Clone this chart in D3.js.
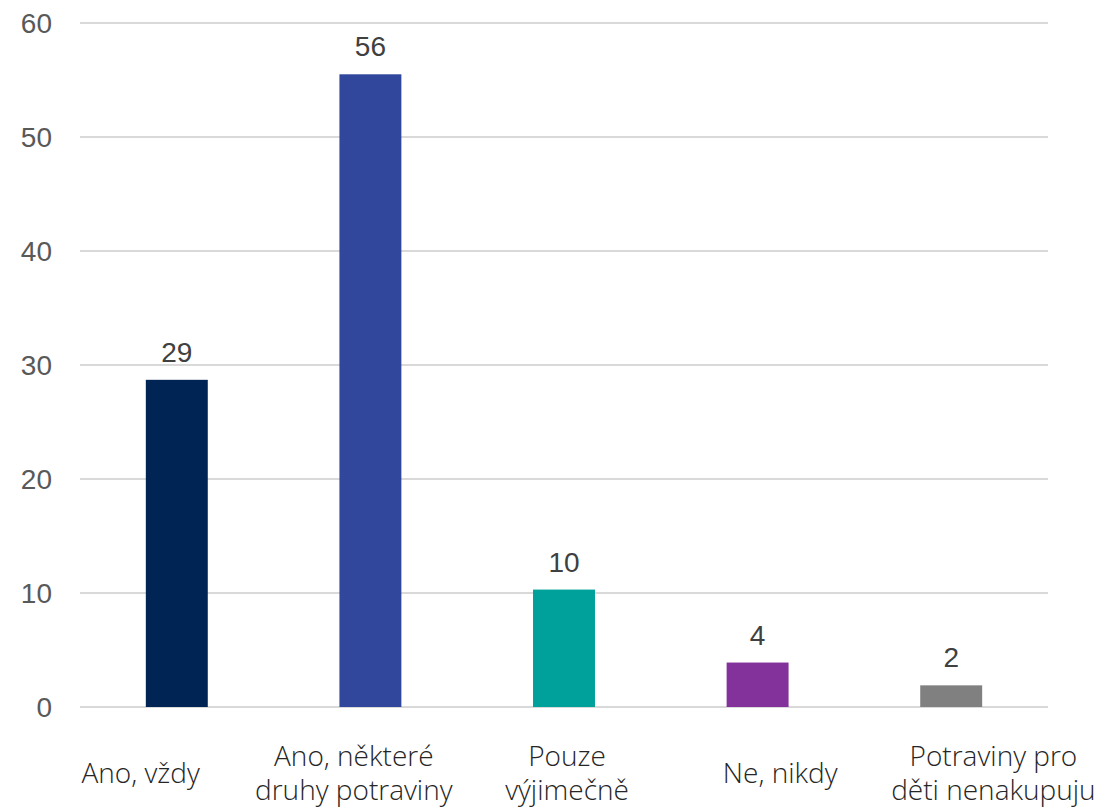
<!DOCTYPE html>
<html>
<head>
<meta charset="utf-8">
<script src="https://cdn.jsdelivr.net/npm/d3@7"></script>
<style>
  body { margin: 0; background: #fff; }
  svg text { font-family: "Liberation Sans", Arial, sans-serif; }
  .cat text { font-family: "Open Sans", "Noto Sans", sans-serif; font-weight: 300; }
</style>
</head>
<body>
<svg id="chart" width="1102" height="808"></svg>
<script>
// values
var categories = [
  ['Ano, vždy'],
  ['Ano, některé', 'druhy potraviny'],
  ['Pouze', 'výjimečně'],
  ['Ne, nikdy'],
  ['Potraviny pro', 'děti nenakupuju']
];
var values = [28.7, 55.5, 10.3, 3.9, 1.9];
var labels = ['29', '56', '10', '4', '2'];
var colors = ['#002554', '#30479c', '#00a09b', '#84329b', '#808080'];
var yTicks = [0, 10, 20, 30, 40, 50, 60];

var svg = d3.select('#chart');
var m = {left: 80, right: 1048, top: 23, bottom: 707};

var x = d3.scaleBand()
  .domain(d3.range(categories.length))
  .range([m.left, m.right])
  .paddingInner(0.68)
  .paddingOuter(0.34);

// category labels sit on a slightly wider spread than the bars
var xLab = d3.scaleBand()
  .domain(d3.range(categories.length))
  .range([34, 1100]);

var y = d3.scaleLinear().domain([0, 60]).range([m.bottom, m.top]);

// gridlines
svg.append('g')
  .selectAll('line')
  .data(yTicks)
  .enter()
  .append('line')
  .attr('x1', m.left)
  .attr('x2', m.right)
  .attr('y1', function(d){ return y(d); })
  .attr('y2', function(d){ return y(d); })
  .attr('stroke', '#d9d9d9')
  .attr('stroke-width', 2);

// y tick labels
svg.append('g')
  .selectAll('text')
  .data(yTicks)
  .enter()
  .append('text')
  .attr('x', 52)
  .attr('y', function(d){ return y(d); })
  .attr('dy', '0.36em')
  .attr('text-anchor', 'end')
  .attr('font-size', 28)
  .attr('fill', '#595959')
  .text(function(d){ return d; });

// bars
svg.append('g')
  .selectAll('rect')
  .data(values)
  .enter()
  .append('rect')
  .attr('x', function(d, i){ return x(i); })
  .attr('width', x.bandwidth())
  .attr('y', function(d){ return y(d); })
  .attr('height', function(d){ return y(0) - y(d); })
  .attr('fill', function(d, i){ return colors[i]; });

// value labels
svg.append('g')
  .selectAll('text')
  .data(values)
  .enter()
  .append('text')
  .attr('x', function(d, i){ return x(i) + x.bandwidth() / 2; })
  .attr('y', function(d){ return y(d) - 18; })
  .attr('text-anchor', 'middle')
  .attr('font-size', 28)
  .attr('fill', '#404040')
  .text(function(d, i){ return labels[i]; });

// category labels
var cat = svg.append('g').attr('class', 'cat')
  .selectAll('text')
  .data(categories)
  .enter()
  .append('text')
  .attr('text-anchor', 'middle')
  .attr('font-size', 28)
  .attr('fill', '#262626')
  .attr('transform', function(d, i){
    var base = d.length === 1 ? 783 : 766;
    return 'translate(' + (xLab(i) + xLab.bandwidth() / 2) + ',' + base + ')';
  });

cat.selectAll('tspan')
  .data(function(d){ return d; })
  .enter()
  .append('tspan')
  .attr('x', 0)
  .attr('y', function(d, j){ return j * 34; })
  .text(function(d){ return d; });
</script>
</body>
</html>
